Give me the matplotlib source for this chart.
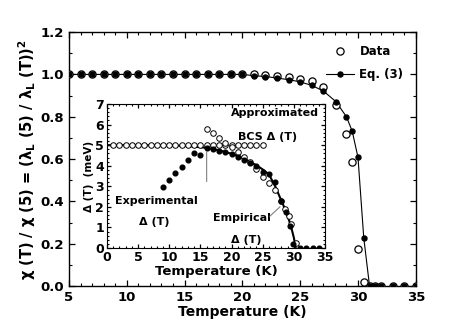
import matplotlib
matplotlib.use("Agg")
import matplotlib.pyplot as plt
from matplotlib.ticker import MultipleLocator
from matplotlib.lines import Line2D

plt.rcParams['font.family'] = ['DejaVu Sans']
plt.rcParams['font.weight'] = 'bold'
plt.rcParams['mathtext.fontset'] = 'dejavusans'
plt.rcParams['mathtext.default'] = 'bf'

# ---- main panel data ----
data_T = [5, 6, 7, 8, 9, 10, 11, 12, 13, 14, 15, 16, 17, 18, 19, 20, 21, 22, 23, 24, 25, 26, 27,
          28.1, 29, 29.5, 30, 30.5, 31, 31.5, 32, 33, 34, 35]
data_v = [1.0, 1.0, 1.0, 1.0, 1.0, 1.0, 1.0, 1.0, 1.0, 1.0, 1.0, 1.0, 1.0, 1.0, 1.0, 1.0, 1.0, 0.998,
          0.993, 0.988, 0.980, 0.968, 0.940, 0.855, 0.717, 0.584, 0.175, 0.017, 0.0, 0.0, 0.0, 0.0, 0.0, 0.0]
eq_T = [5, 6, 7, 8, 9, 10, 11, 12, 13, 14, 15, 16, 17, 18, 19, 20, 21, 22, 23, 24, 25, 26, 27,
        28.1, 29, 29.5, 30, 30.5, 31, 31.5, 32, 33, 34, 35]
eq_v = [1.0, 1.0, 1.0, 1.0, 1.0, 1.0, 1.0, 1.0, 1.0, 1.0, 1.0, 1.0, 1.0, 1.0, 1.0, 1.0, 0.994, 0.990,
        0.983, 0.975, 0.965, 0.948, 0.922, 0.871, 0.800, 0.732, 0.608, 0.228, 0.0, 0.0, 0.0, 0.0, 0.0, 0.0]

# ---- inset data ----
bcs_T = list(range(1, 26))
bcs_v = [5.0] * 25
open_T = [16, 17, 18, 19, 20, 21, 22, 23, 24, 25, 26, 27, 28, 28.6, 29.2, 29.6, 30.4]
open_v = [5.78, 5.57, 5.37, 5.12, 4.9, 4.66, 4.42, 4.17, 3.85, 3.45, 3.18, 2.8, 2.3, 1.9, 1.55, 1.15, 0.25]
exp_T = [9, 10, 11, 12, 13, 14, 15, 16, 17, 18, 19, 20, 21, 22, 23, 24, 25, 26, 27, 28, 28.8, 29.3, 29.9,
         31, 32, 33, 34]
exp_v = [2.95, 3.3, 3.63, 3.96, 4.3, 4.64, 4.53, 4.87, 4.8, 4.72, 4.66, 4.55, 4.42, 4.3, 4.15, 4.0, 3.68,
         3.6, 3.22, 2.3, 1.75, 1.06, 0.2, 0.0, 0.0, 0.0, 0.0]
emp_T = [0, 5, 10, 13, 16, 18, 20, 22, 24, 25, 26, 27, 28, 28.5, 29, 29.5, 30, 30.3]
emp_v = [5.0, 5.0, 4.99, 4.96, 4.87, 4.75, 4.58, 4.35, 4.02, 3.82, 3.58, 3.0, 2.3, 1.95, 1.55, 1.1, 0.5, 0.0]

fig = plt.figure(figsize=(4.63, 3.23), dpi=100)
ax = fig.add_axes([0.149, 0.1146, 0.749, 0.786])

ax.plot(eq_T[:29], eq_v[:29], '-', color='black', lw=0.8, zorder=2)
ax.plot(data_T, data_v, 'o', mfc='white', mec='black', ms=5.2, mew=0.9, zorder=3)
ax.plot(eq_T, eq_v, 'o', color='black', ms=3.6, zorder=4)

ax.set_xlim(5, 35)
ax.set_ylim(0, 1.2)
ax.xaxis.set_major_locator(MultipleLocator(5))
ax.xaxis.set_minor_locator(MultipleLocator(1))
ax.yaxis.set_major_locator(MultipleLocator(0.2))
ax.yaxis.set_minor_locator(MultipleLocator(0.1))
ax.yaxis.set_major_formatter(plt.FuncFormatter(lambda v, p: f"{v:.1f}"))
ax.tick_params(which='both', direction='in', top=True, right=True, labelsize=9.5)
ax.tick_params(which='major', length=4, width=0.9)
ax.tick_params(which='minor', length=2, width=0.8)
for s in ax.spines.values():
    s.set_linewidth(1.0)
ax.set_xlabel('Temperature (K)', fontsize=10, fontweight='bold', labelpad=1)
ax.set_ylabel(r'$\chi$ (T) / $\chi$ (5) = ($\lambda_L$ (5) / $\lambda_L$ (T))$^2$',
              fontsize=10.5, fontweight='bold', labelpad=2)

h1 = Line2D([], [], marker='o', ls='none', mfc='white', mec='black', ms=5.2, mew=0.9)
h2 = Line2D([], [], marker='o', ls='-', color='black', lw=0.8, ms=3.6)
ax.legend([h1, h2], ['Data', 'Eq. (3)'], loc='upper right', frameon=False, fontsize=8.5,
          handlelength=2.3, handletextpad=0.5, labelspacing=0.8, bbox_to_anchor=(0.995, 0.99))

# ---- inset ----
ins = fig.add_axes([0.231, 0.232, 0.471, 0.446])
ins.plot(emp_T, emp_v, '-', color='black', lw=1.5, zorder=2)
ins.plot(bcs_T, bcs_v, 'o', mfc='white', mec='black', ms=4.0, mew=0.7, zorder=3)
ins.plot(open_T, open_v, 'o', mfc='white', mec='black', ms=4.0, mew=0.7, zorder=3)
ins.plot(exp_T, exp_v, 'o', color='black', ms=3.4, zorder=4)
ins.set_xlim(0, 35)
ins.set_ylim(0, 7)
ins.xaxis.set_major_locator(MultipleLocator(5))
ins.xaxis.set_minor_locator(MultipleLocator(1))
ins.yaxis.set_major_locator(MultipleLocator(1))
ins.yaxis.set_minor_locator(MultipleLocator(0.2))
ins.tick_params(which='both', direction='in', top=True, right=True, labelsize=9, pad=2)
ins.tick_params(which='major', length=3, width=0.9)
ins.tick_params(which='minor', length=1.5, width=0.8)
ins.set_xlabel('Temperature (K)', fontsize=9.5, fontweight='bold', labelpad=1)
ins.set_ylabel('Δ (T)  (meV)', fontsize=7.5, fontweight='bold', labelpad=1)

ins.text(0.97, 0.935, 'Approximated', transform=ins.transAxes, ha='right', va='center', fontsize=8)
ins.text(0.6, 0.77, 'BCS Δ (T)', transform=ins.transAxes, ha='left', va='center', fontsize=8)
ins.text(0.035, 0.33, 'Experimental', transform=ins.transAxes, ha='left', va='center', fontsize=8)
ins.text(0.145, 0.18, 'Δ (T)', transform=ins.transAxes, ha='left', va='center', fontsize=8)
ins.text(0.485, 0.21, 'Empirical', transform=ins.transAxes, ha='left', va='center', fontsize=8)
ins.text(0.57, 0.055, 'Δ (T)', transform=ins.transAxes, ha='left', va='center', fontsize=8)
ins.annotate('', xy=(16, 4.8), xytext=(16, 3.1),
             arrowprops=dict(arrowstyle='-', color='gray', lw=0.8))
ins.annotate('', xy=(28.1, 2.1), xytext=(25.8, 1.45),
             arrowprops=dict(arrowstyle='-', color='gray', lw=0.8))

fig.savefig('out.png', dpi=100)
